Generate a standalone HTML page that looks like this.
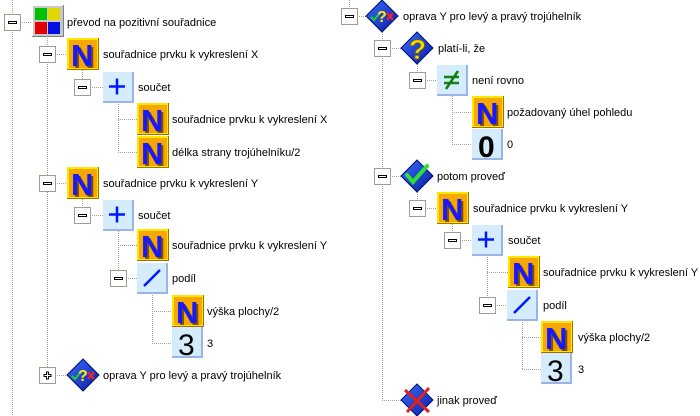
<!DOCTYPE html>
<html><head><meta charset="utf-8"><style>
html,body{margin:0;padding:0;background:#fff;}
svg{display:block;}
text{font-family:"Liberation Sans",sans-serif;font-size:11px;fill:#000;}
.l{stroke:#a8a090;stroke-width:1;stroke-dasharray:1,1;fill:none;}
.e{fill:#fff;stroke:#a09c90;}
.b{fill:#fff;stroke:#000;}
.nN{font-size:31px;font-weight:bold;fill:#1818ff;}
.nS{font-size:31px;font-weight:bold;fill:#7a5200;}
.dg{font-size:30px;fill:#000;}
.q{font-size:16px;font-weight:bold;fill:#ffee00;}
.Q{font-size:28px;font-weight:bold;fill:#f0e000;stroke:#806000;stroke-width:0.8;}
</style></head><body>
<svg width="700" height="416" viewBox="0 0 700 416" xmlns="http://www.w3.org/2000/svg">
<defs>
<linearGradient id="dia" x1="0" y1="0" x2="1" y2="1"><stop offset="0" stop-color="#3a6cff"/><stop offset="1" stop-color="#0a1ca0"/></linearGradient>
</defs>
<path class="l" d="M12.5 0V416 M20 22.5H33 M47.5 38V375 M55 54.5H67 M82.5 70V87 M90 87.5H103 M118.5 102V152 M118 119.5H137 M118 152.5H137 M55 183.5H67 M82.5 199V215 M90 215.5H103 M118.5 231V278 M118 245.5H137 M126 278.5H137 M152.5 293V343 M152 311.5H172 M152 343.5H172 M55 375.5H67"/>
<path class="l" d="M349.5 0V9 M357 16.5H366 M382.5 32V400 M390 48.5H401 M417.5 64V80 M425 80.5H437 M452.5 96V144 M452 112.5H472 M452 144.5H472 M390 176.5H401 M417.5 192V208 M425 208.5H437 M452.5 224V240 M460 240.5H472 M487.5 255V305 M487 272.5H508 M495 305.5H507 M522.5 320V369 M522 337.5H541 M522 369.5H541 M382 400.5H401"/>

<g>
<rect class="e" x="4.5" y="14.5" width="16" height="16"/><rect class="b" x="8.5" y="21.5" width="8" height="2"/>
<rect class="e" x="39.5" y="46.5" width="16" height="16"/><rect class="b" x="43.5" y="53.5" width="8" height="2"/>
<rect class="e" x="74.5" y="79.5" width="16" height="16"/><rect class="b" x="78.5" y="86.5" width="8" height="2"/>
<rect class="e" x="39.5" y="175.5" width="16" height="16"/><rect class="b" x="43.5" y="182.5" width="8" height="2"/>
<rect class="e" x="74.5" y="207.5" width="16" height="16"/><rect class="b" x="78.5" y="214.5" width="8" height="2"/>
<rect class="e" x="110.5" y="270.5" width="16" height="16"/><rect class="b" x="114.5" y="277.5" width="8" height="2"/>
<rect class="e" x="39.5" y="367.5" width="16" height="16"/><path d="M43.5 375.5h8M47.5 371.5v8" stroke="#000" stroke-width="3"/><path d="M44.5 375.5h6M47.5 372.5v6" stroke="#fff" stroke-width="1"/>
<rect class="e" x="341.5" y="8.5" width="16" height="16"/><rect class="b" x="345.5" y="15.5" width="8" height="2"/>
<rect class="e" x="374.5" y="40.5" width="16" height="16"/><rect class="b" x="378.5" y="47.5" width="8" height="2"/>
<rect class="e" x="409.5" y="72.5" width="16" height="16"/><rect class="b" x="413.5" y="79.5" width="8" height="2"/>
<rect class="e" x="374.5" y="168.5" width="16" height="16"/><rect class="b" x="378.5" y="175.5" width="8" height="2"/>
<rect class="e" x="409.5" y="200.5" width="16" height="16"/><rect class="b" x="413.5" y="207.5" width="8" height="2"/>
<rect class="e" x="444.5" y="232.5" width="16" height="16"/><rect class="b" x="448.5" y="239.5" width="8" height="2"/>
<rect class="e" x="479.5" y="297.5" width="16" height="16"/><rect class="b" x="483.5" y="304.5" width="8" height="2"/>
</g>

<rect x="32" y="5" width="32" height="32" fill="#808080"/><rect x="32" y="5" width="31" height="31" fill="#fff"/><rect x="33" y="6" width="30" height="30" fill="#c8c8c8"/>
<rect x="35" y="8" width="12" height="12" fill="#00c000"/><rect x="48" y="8" width="12" height="12" fill="#e0d800"/>
<rect x="35" y="22" width="12" height="12" fill="#e00000"/><rect x="48" y="22" width="12" height="12" fill="#0010e0"/>
<text x="67" y="26">převod na pozitivní souřadnice</text>

<g>
<rect x="67" y="38" width="32" height="32" fill="#a07000"/><rect x="67" y="38" width="31" height="31" fill="#ffe800"/><rect x="69" y="40" width="28" height="28" fill="#f7a800"/><text class="nS" x="73" y="68">N</text><text class="nN" x="71" y="66">N</text>
<rect x="137" y="103" width="32" height="32" fill="#a07000"/><rect x="137" y="103" width="31" height="31" fill="#ffe800"/><rect x="139" y="105" width="28" height="28" fill="#f7a800"/><text class="nS" x="143" y="133">N</text><text class="nN" x="141" y="131">N</text>
<rect x="137" y="136" width="32" height="32" fill="#a07000"/><rect x="137" y="136" width="31" height="31" fill="#ffe800"/><rect x="139" y="138" width="28" height="28" fill="#f7a800"/><text class="nS" x="143" y="166">N</text><text class="nN" x="141" y="164">N</text>
<rect x="67" y="167" width="32" height="32" fill="#a07000"/><rect x="67" y="167" width="31" height="31" fill="#ffe800"/><rect x="69" y="169" width="28" height="28" fill="#f7a800"/><text class="nS" x="73" y="197">N</text><text class="nN" x="71" y="195">N</text>
<rect x="137" y="229" width="32" height="32" fill="#a07000"/><rect x="137" y="229" width="31" height="31" fill="#ffe800"/><rect x="139" y="231" width="28" height="28" fill="#f7a800"/><text class="nS" x="143" y="259">N</text><text class="nN" x="141" y="257">N</text>
<rect x="172" y="295" width="32" height="32" fill="#a07000"/><rect x="172" y="295" width="31" height="31" fill="#ffe800"/><rect x="174" y="297" width="28" height="28" fill="#f7a800"/><text class="nS" x="178" y="325">N</text><text class="nN" x="176" y="323">N</text>
<rect x="472" y="96" width="32" height="32" fill="#a07000"/><rect x="472" y="96" width="31" height="31" fill="#ffe800"/><rect x="474" y="98" width="28" height="28" fill="#f7a800"/><text class="nS" x="478" y="126">N</text><text class="nN" x="476" y="124">N</text>
<rect x="437" y="192" width="32" height="32" fill="#a07000"/><rect x="437" y="192" width="31" height="31" fill="#ffe800"/><rect x="439" y="194" width="28" height="28" fill="#f7a800"/><text class="nS" x="443" y="222">N</text><text class="nN" x="441" y="220">N</text>
<rect x="508" y="256" width="32" height="32" fill="#a07000"/><rect x="508" y="256" width="31" height="31" fill="#ffe800"/><rect x="510" y="258" width="28" height="28" fill="#f7a800"/><text class="nS" x="514" y="286">N</text><text class="nN" x="512" y="284">N</text>
<rect x="541" y="321" width="32" height="32" fill="#a07000"/><rect x="541" y="321" width="31" height="31" fill="#ffe800"/><rect x="543" y="323" width="28" height="28" fill="#f7a800"/><text class="nS" x="547" y="351">N</text><text class="nN" x="545" y="349">N</text>
</g>

<g>
<rect x="103" y="72" width="31" height="31" fill="#98b4e8"/><rect x="103" y="72" width="29" height="29" fill="#d4ecfc"/><path d="M109 86.5h16M117 78.5v16" stroke="#0018ff" stroke-width="2.5"/>
<rect x="103" y="200" width="31" height="31" fill="#98b4e8"/><rect x="103" y="200" width="29" height="29" fill="#d4ecfc"/><path d="M109 214.5h16M117 206.5v16" stroke="#0018ff" stroke-width="2.5"/>
<rect x="137" y="263" width="31" height="31" fill="#98b4e8"/><rect x="137" y="263" width="29" height="29" fill="#d4ecfc"/><path d="M144 286L160 270" stroke="#0018ff" stroke-width="2.5"/>
<rect x="172" y="327" width="31" height="31" fill="#98b4e8"/><rect x="172" y="327" width="29" height="29" fill="#d4ecfc"/><text class="dg" x="178" y="355">3</text>
<rect x="437" y="65" width="31" height="31" fill="#98b4e8"/><rect x="437" y="65" width="29" height="29" fill="#d4ecfc"/><path d="M444 77h15M444 83h15M446 89L458 71" stroke="#108010" stroke-width="2.5"/>
<rect x="472" y="129" width="31" height="31" fill="#98b4e8"/><rect x="472" y="129" width="29" height="29" fill="#d4ecfc"/><text class="dg" x="478" y="157" font-weight="bold">0</text>
<rect x="472" y="225" width="31" height="31" fill="#98b4e8"/><rect x="472" y="225" width="29" height="29" fill="#d4ecfc"/><path d="M478 239.5h16M486 231.5v16" stroke="#0018ff" stroke-width="2.5"/>
<rect x="507" y="290" width="31" height="31" fill="#98b4e8"/><rect x="507" y="290" width="29" height="29" fill="#d4ecfc"/><path d="M514 313L530 297" stroke="#0018ff" stroke-width="2.5"/>
<rect x="541" y="353" width="31" height="31" fill="#98b4e8"/><rect x="541" y="353" width="29" height="29" fill="#d4ecfc"/><text class="dg" x="547" y="381">3</text>
</g>

<g>
<polygon points="83,359 99,375 83,391 67,375" fill="url(#dia)" stroke="#001070"/>
<path d="M72 376l3 3 5-6" stroke="#20d020" stroke-width="2" fill="none"/><text class="q" x="78" y="381">?</text><path d="M88 372l6 7M94 372l-6 7" stroke="#ff2020" stroke-width="2"/>
<polygon points="382,0 398,16 382,32 366,16" fill="url(#dia)" stroke="#001070"/>
<path d="M371 17l3 3 5-6" stroke="#20d020" stroke-width="2" fill="none"/><text class="q" x="377" y="22">?</text><path d="M387 13l6 7M393 13l-6 7" stroke="#ff2020" stroke-width="2"/>
<polygon points="417,32 433,48 417,64 401,48" fill="url(#dia)" stroke="#001070"/>
<text class="Q" x="409" y="59">?</text>
<polygon points="417,160 433,176 417,192 401,176" fill="url(#dia)" stroke="#001070"/>
<path d="M407 175l6 7 14-16" stroke="#30e030" stroke-width="4" fill="none" stroke-linecap="round"/>
<polygon points="417,384 433,400 417,416 401,400" fill="url(#dia)" stroke="#001070"/>
<path d="M405 390l24 22M429 388l-22 24" stroke="#e02020" stroke-width="3"/>
</g>

<text x="103" y="58">souřadnice prvku k vykreslení X</text>
<text x="138" y="91">součet</text>
<text x="172" y="123">souřadnice prvku k vykreslení X</text>
<text x="172" y="156">délka strany trojúhelníku/2</text>
<text x="103" y="187">souřadnice prvku k vykreslení Y</text>
<text x="138" y="219">součet</text>
<text x="172" y="249">souřadnice prvku k vykreslení Y</text>
<text x="172" y="282">podíl</text>
<text x="207" y="315">výška plochy/2</text>
<text x="207" y="347">3</text>
<text x="103" y="379">oprava Y pro levý a pravý trojúhelník</text>
<text x="403" y="20">oprava Y pro levý a pravý trojúhelník</text>
<text x="438" y="52">platí-li, že</text>
<text x="472" y="84">není rovno</text>
<text x="507" y="116">požadovaný úhel pohledu</text>
<text x="507" y="148">0</text>
<text x="437" y="180">potom proveď</text>
<text x="473" y="212">souřadnice prvku k vykreslení Y</text>
<text x="508" y="244">součet</text>
<text x="543" y="276">souřadnice prvku k vykreslení Y</text>
<text x="543" y="309">podíl</text>
<text x="578" y="341">výška plochy/2</text>
<text x="578" y="373">3</text>
<text x="437" y="404">jinak proveď</text>
</svg>
</body></html>
